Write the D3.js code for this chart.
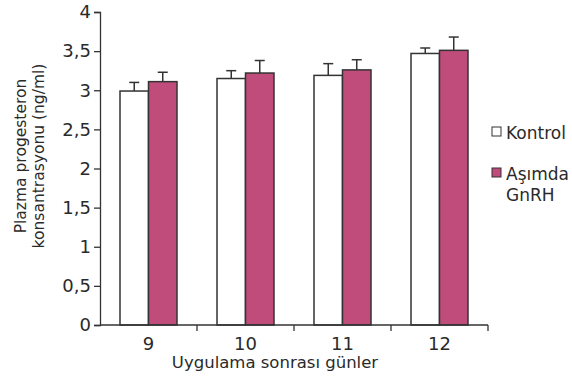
<!DOCTYPE html>
<html><head><meta charset="utf-8">
<script src="https://cdn.jsdelivr.net/npm/d3@7"></script>
<style>body{margin:0;background:#fff}svg{display:block}</style>
</head><body>
<svg id="c" width="572" height="376"></svg>
<script>
const categories = ["9","10","11","12"];
const seriesNames = ["Kontrol","Aşımda GnRH"];
const kontrol = [2.99, 3.15, 3.19, 3.47];
const kontrolErr = [0.11, 0.10, 0.15, 0.07];
const asimda = [3.11, 3.22, 3.26, 3.51];
const asimdaErr = [0.12, 0.16, 0.13, 0.17];
const yTicks = [0,0.5,1,1.5,2,2.5,3,3.5,4];
const colors = ["#ffffff","#c04c7c"];

const svg = d3.select("#c");
const font = "'DejaVu Sans', Verdana, sans-serif";
const txt = "#2a2a2a";
const x0 = d3.scaleBand().domain(categories).range([100,488]).paddingInner(0).paddingOuter(0);
const x1 = d3.scaleBand().domain(seriesNames).range([20, 97-20]);
const y = d3.scaleLinear().domain([0,4]).range([325,12]);

const data = categories.map((c,i)=>({c, vals:[
  {s:seriesNames[0], v:kontrol[i], e:kontrolErr[i], col:colors[0]},
  {s:seriesNames[1], v:asimda[i], e:asimdaErr[i], col:colors[1]}]}));

const g = svg.append("g");
const grp = g.selectAll("g.grp").data(data).join("g").attr("transform", d=>`translate(${x0(d.c)},0)`);
grp.selectAll("g.err").data(d=>d.vals).join("g").each(function(d){
  const cx = x1(d.s)+x1.bandwidth()/2;
  const s = d3.select(this);
  s.append("line").attr("x1",cx).attr("x2",cx).attr("y1",y(d.v)).attr("y2",y(d.v+d.e)).attr("stroke","#333").attr("stroke-width",1.5);
  s.append("line").attr("x1",cx-5).attr("x2",cx+5).attr("y1",y(d.v+d.e)).attr("y2",y(d.v+d.e)).attr("stroke","#333").attr("stroke-width",1.5);
});
grp.selectAll("rect").data(d=>d.vals).join("rect")
  .attr("x", d=>x1(d.s)).attr("width", x1.bandwidth())
  .attr("y", d=>y(d.v)).attr("height", d=>y(0)-y(d.v))
  .attr("fill", d=>d.col).attr("stroke","#333").attr("stroke-width",1.5);

const ya = svg.append("g").attr("transform","translate(100,0)")
  .call(d3.axisLeft(y).tickValues(yTicks).tickSize(6).tickFormat(d=>String(d).replace(".",",")));
ya.select(".domain").attr("stroke","#333").attr("stroke-width",1.3);
ya.selectAll(".tick line").attr("stroke","#333").attr("stroke-width",1.3);
ya.selectAll("text").attr("font-family",font).attr("font-size",18).attr("fill",txt).attr("x",-9);

const xa = svg.append("g").attr("transform","translate(0,325)");
xa.append("line").attr("x1",100).attr("x2",488).attr("y1",0).attr("y2",0).attr("stroke","#333").attr("stroke-width",1.3);
const bounds = categories.map(c=>x0(c)+x0.bandwidth());
xa.selectAll("line.t").data(bounds).join("line").attr("class","t")
  .attr("x1",d=>d).attr("x2",d=>d).attr("y1",0).attr("y2",6).attr("stroke","#333").attr("stroke-width",1.3);
xa.selectAll("text.l").data(categories).join("text").attr("class","l")
  .attr("x",d=>x0(d)+x0.bandwidth()/2).attr("y",25).attr("text-anchor","middle")
  .attr("font-family",font).attr("font-size",18).attr("fill",txt).text(d=>d);

svg.append("text").attr("x",275).attr("y",368).attr("text-anchor","middle")
  .attr("font-family",font).attr("font-size",16.5).attr("fill",txt).text("Uygulama sonrası günler");

const yt = svg.append("text").attr("transform","translate(26,156) rotate(-90)").attr("text-anchor","middle")
  .attr("font-family",font).attr("font-size",15.5).attr("fill",txt);
yt.append("tspan").attr("x",0).attr("dy",0).text("Plazma progesteron");
yt.append("tspan").attr("x",0).attr("dy",18).text("konsantrasyonu (ng/ml)");

const leg = svg.append("g");
leg.append("rect").attr("x",492).attr("y",127).attr("width",9).attr("height",9).attr("fill",colors[0]).attr("stroke","#333").attr("stroke-width",1);
leg.append("text").attr("x",506).attr("y",139).attr("font-family",font).attr("font-size",17).attr("fill",txt).text("Kontrol");
leg.append("rect").attr("x",492).attr("y",168).attr("width",9).attr("height",9).attr("fill",colors[1]).attr("stroke","#333").attr("stroke-width",1);
const lt = leg.append("text").attr("font-family",font).attr("font-size",17).attr("fill",txt);
lt.append("tspan").attr("x",506).attr("y",180).text("Aşımda");
lt.append("tspan").attr("x",506).attr("y",201).text("GnRH");
</script>
</body></html>
